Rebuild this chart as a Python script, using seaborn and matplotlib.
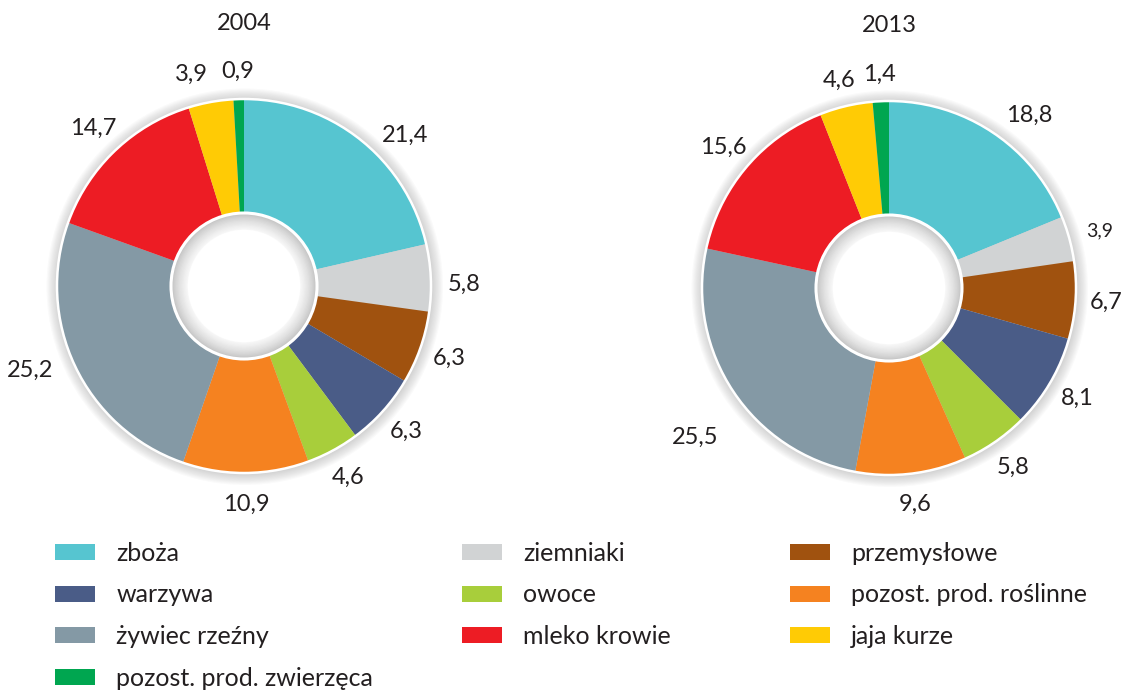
import numpy as np
import matplotlib
matplotlib.use("Agg")
import matplotlib.pyplot as plt
from matplotlib.patches import Circle, Patch
import seaborn as sns

categories = ["zboża", "ziemniaki", "przemysłowe", "warzywa", "owoce",
              "pozost. prod. roślinne", "żywiec rzeźny", "mleko krowie",
              "jaja kurze", "pozost. prod. zwierzęca"]
values_2004 = [21.4, 5.8, 6.3, 6.3, 4.6, 10.9, 25.2, 14.7, 3.9, 0.9]
values_2013 = [18.8, 3.9, 6.7, 8.1, 5.8, 9.6, 25.5, 15.6, 4.6, 1.4]
years = ["2004", "2013"]
colors = ["#56C5D0", "#D1D3D4", "#A0520F", "#4A5C87", "#A8CE3B",
          "#F58220", "#8499A5", "#ED1C24", "#FFCB05", "#00A650"]

sns.set_theme(style="white")
plt.rcParams["font.family"] = ["Lato", "DejaVu Sans"]
palette = sns.color_palette(colors)

W, H = 1128, 695
fig = plt.figure(figsize=(W / 100, H / 100), dpi=100)
fig.patch.set_facecolor("white")

R_PX = 187.0       # outer radius in pixels
HALF = 264.0       # half size of each axes box in pixels
hole = 73.0 / R_PX
TXT = "#231F20"


def fmt(v):
    return f"{v:.1f}".replace(".", ",")


def donut(cx, cy, vals, title, small=(), nudge=None):
    nudge = nudge or {}
    ax = fig.add_axes([(cx - HALF) / W, (H - cy - HALF) / H, 2 * HALF / W, 2 * HALF / H])
    lim = HALF / R_PX
    # soft outer shadow
    for i in range(10):
        ax.add_patch(Circle((0.004, -0.004), 1.06 - i * 0.006, facecolor="#8f8f8f",
                            edgecolor="none", alpha=0.045, zorder=0))
    wedges, texts = ax.pie(vals, colors=palette, startangle=90, counterclock=False,
                           radius=1.0, labels=[fmt(v) for v in vals],
                           labeldistance=1.165,
                           wedgeprops=dict(width=1 - hole, edgecolor="none", linewidth=0),
                           textprops=dict(fontsize=17, color=TXT))
    for i, t in enumerate(texts):
        t.set_ha("center")
        t.set_va("center")
        if i in small:
            t.set_fontsize(14)
        if i in nudge:
            # shift in pixels (right, down)
            x, y = t.get_position()
            dx, dy = nudge[i]
            t.set_position((x + dx / R_PX, y - dy / R_PX))
    ax.add_patch(Circle((0, 0), 1.0, facecolor="none", edgecolor="white", lw=1.8, zorder=5))
    # inner hole with grey gradient
    n = 16
    for i in range(n):
        f = i / (n - 1)
        g = 0.74 + (1.0 - 0.74) * f ** 0.7
        ax.add_patch(Circle((0, 0), hole - f * 0.1, facecolor=(g, g, g),
                            edgecolor="none", zorder=6))
    ax.add_patch(Circle((0, 0), hole - 0.09, facecolor="white", edgecolor="none", zorder=7))
    ax.add_patch(Circle((0, 0), hole, facecolor="none", edgecolor="white", lw=2.2, zorder=8))
    ax.set_xlim(-lim, lim)
    ax.set_ylim(-lim, lim)
    ax.set_aspect("equal")
    ax.axis("off")
    ax.text(0, 262 / R_PX, title, ha="center", va="center", fontsize=17, color=TXT)
    return ax


donut(244, 286, values_2004, years[0],
      nudge={0: (25, 20), 1: (2, 8), 6: (-17, -10), 8: (-14, 3), 9: (0, 3)})
donut(889, 288, values_2013, years[1], small=(1,),
      nudge={0: (19, 8), 6: (-13, 29), 8: (0, 4), 9: (0, 4)})

# legend in three columns, row-major order as in the reference
handles = [Patch(facecolor=c, edgecolor="none") for c in palette]
cols = [[0, 3, 6, 9], [1, 4, 7], [2, 5, 8]]
col_x = [55, 462, 790]
for idx, x in zip(cols, col_x):
    fig.legend([handles[i] for i in idx], [categories[i] for i in idx],
               loc="upper left", bbox_to_anchor=(x / W, 1 - 542 / H),
               frameon=False, fontsize=18, handlelength=1.6, handleheight=0.62,
               handletextpad=0.85, labelspacing=0.74, borderpad=0, borderaxespad=0,
               labelcolor=TXT)

fig.savefig("out.png", dpi=100, facecolor="white")
